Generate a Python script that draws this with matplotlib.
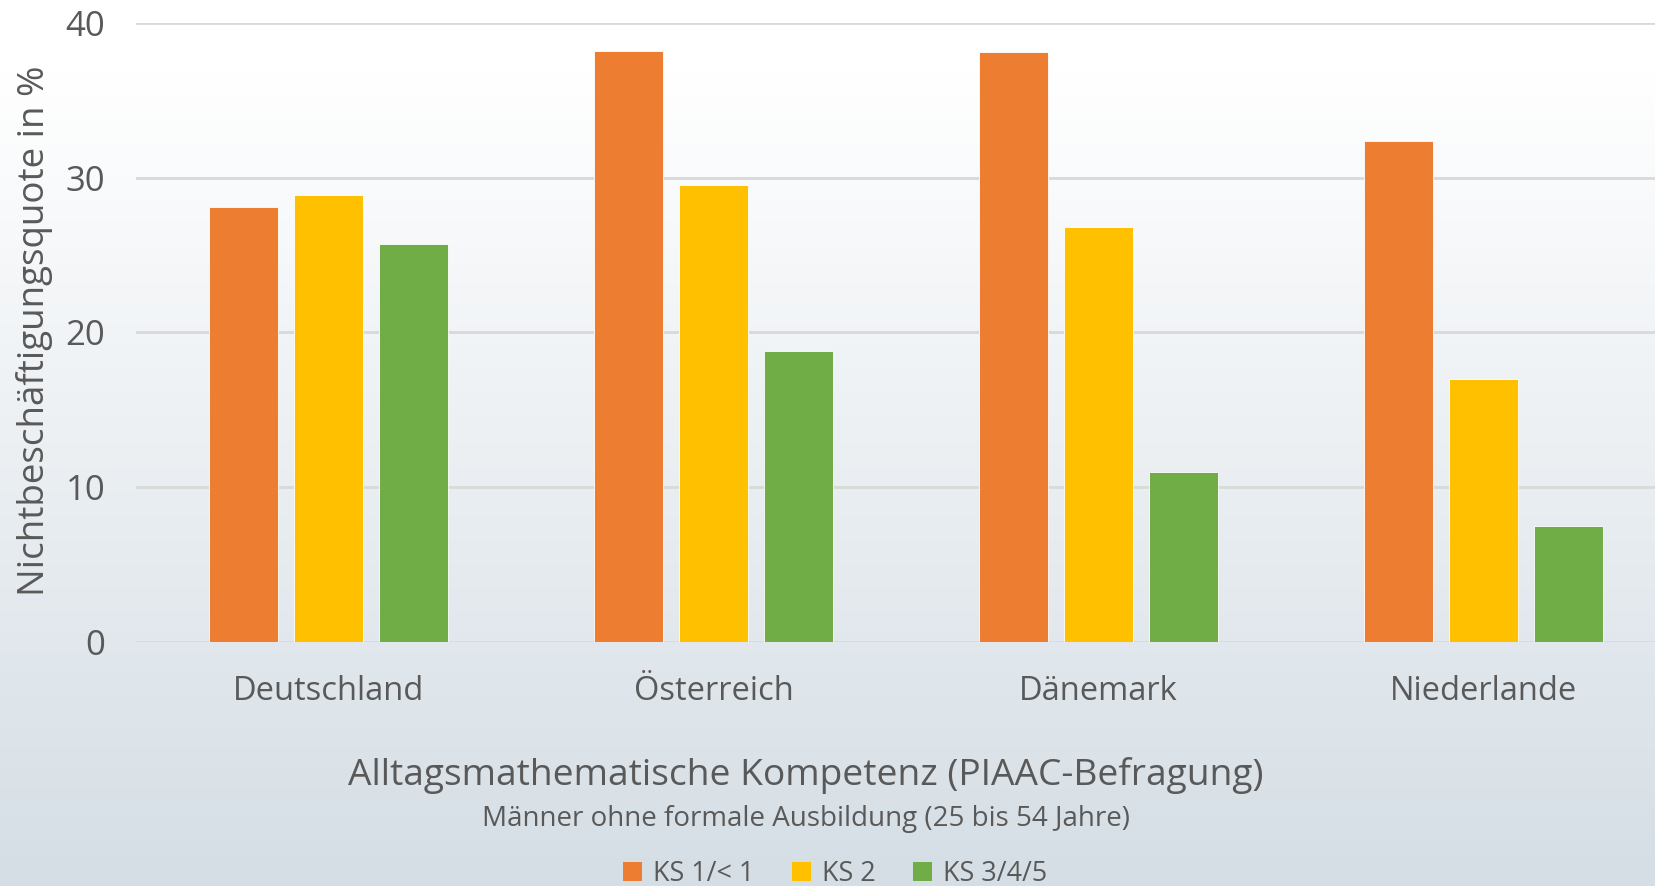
import numpy as np
import matplotlib.pyplot as plt
from matplotlib.patches import Patch
from matplotlib.colors import LinearSegmentedColormap

countries = ['Deutschland', 'Österreich', 'Dänemark', 'Niederlande']
ks1 = [28.1, 38.2, 38.1, 32.4]
ks2 = [28.9, 29.5, 26.8, 17.0]
ks345 = [25.7, 18.8, 11.0, 7.5]
series_names = ['KS 1/< 1', 'KS 2', 'KS 3/4/5']
colors = ['#ED7D31', '#FFC000', '#70AD47']
yticks = [0, 10, 20, 30, 40]

txt = '#595959'
plt.rcParams['font.family'] = ['Open Sans', 'DejaVu Sans']

fig = plt.figure(figsize=(16.55, 8.86), dpi=100)

# background gradient
bg = fig.add_axes([0, 0, 1, 1], zorder=-10)
cmap = LinearSegmentedColormap.from_list('bg', [(0, '#ffffff'), (0.08, '#ffffff'), (1, '#d5dee5')])
grad = np.linspace(0, 1, 256).reshape(-1, 1)
bg.imshow(grad, aspect='auto', cmap=cmap, extent=[0, 1, 0, 1])
bg.axis('off')

ax = fig.add_axes([136 / 1655, 244.3 / 886, 1540 / 1655, 618.7 / 886])
ax.set_facecolor('none')
x = np.arange(len(countries))
w = 0.177
off = 0.2208
for i, vals in enumerate([ks1, ks2, ks345]):
    ax.bar(x + (i - 1) * off, vals, w, color=colors[i], edgecolor='#ffffff',
           linewidth=0.6, zorder=3)

ax.set_xlim(-0.5, 3.5)
ax.set_ylim(0, 40)
ax.set_yticks(yticks)
ax.set_xticks(x)
ax.set_xticklabels(countries)
ax.grid(axis='y', color='#d9d9d9', linewidth=2, zorder=0)
for s in ax.spines.values():
    s.set_visible(False)
ax.tick_params(axis='y', length=0, labelsize=25, colors=txt, pad=22)
ax.tick_params(axis='x', length=0, labelsize=23.5, colors=txt, pad=24)

fig.text(35 / 1655, 1 - 331 / 886, 'Nichtbeschäftigungsquote in %', rotation=90,
         ha='center', va='center', fontsize=26.5, color=txt)
fig.text(806 / 1655, 1 - 776 / 886, 'Alltagsmathematische Kompetenz (PIAAC-Befragung)',
         ha='center', va='center', fontsize=26.7, color=txt)
fig.text(806 / 1655, 1 - 819 / 886, 'Männer ohne formale Ausbildung (25 bis 54 Jahre)',
         ha='center', va='center', fontsize=20, color=txt)

handles = [Patch(facecolor=c, edgecolor='none') for c in colors]
fig.legend(handles, series_names, loc='center', bbox_to_anchor=(835 / 1655, 1 - 874 / 886),
           ncol=3, frameon=False, fontsize=19.4, labelcolor=txt,
           handlelength=0.7, handleheight=0.7, handletextpad=0.4, columnspacing=1.4)

fig.savefig('out.png', dpi=100)
